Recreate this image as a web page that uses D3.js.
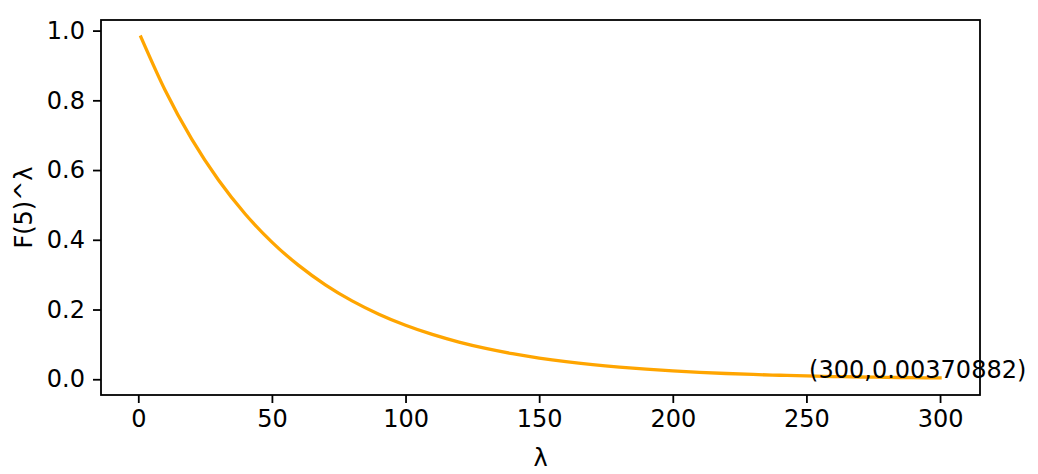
<!DOCTYPE html>
<html>
<head>
<meta charset="utf-8">
<script src="https://cdn.jsdelivr.net/npm/d3@7"></script>
<style>
  html, body { margin: 0; padding: 0; background: #fff; }
  svg { display: block; }
  text { font-family: "DejaVu Sans", sans-serif; fill: #000; }
</style>
</head>
<body>
<svg id="chart" width="1038" height="474"></svg>
<script>
// ---- data ----
const lambdas = [1, 10, 20, 30, 40, 50, 60, 70, 80, 90, 100, 110, 120, 130, 140, 150,
                 160, 170, 180, 190, 200, 210, 220, 230, 240, 250, 260, 270, 280, 290, 300];
const values  = [0.9815, 0.8298, 0.6886, 0.5714, 0.4741, 0.3934, 0.3265, 0.2709, 0.2248,
                 0.1866, 0.1548, 0.1285, 0.1066, 0.0885, 0.0734, 0.0609, 0.0505, 0.0419,
                 0.0348, 0.0289, 0.0240, 0.0199, 0.0165, 0.0137, 0.0114, 0.0094, 0.0078,
                 0.0065, 0.0054, 0.0045, 0.00370882];
const xTicks = [0, 50, 100, 150, 200, 250, 300];
const yTicks = [0.0, 0.2, 0.4, 0.6, 0.8, 1.0];
const annotationText = "(300,0.00370882)";
const annotationX = 251;
const annotationY = 0.00370882;
const xLabel = "λ";
const yLabel = "F(5)^λ";

// ---- layout ----
const svg = d3.select("#chart");
const mLeft = 101, mRight = 980, mTop = 20, mBottom = 395;
const fs = 24;

const xMin = d3.min(lambdas), xMax = d3.max(lambdas);
const yMin = d3.min(values), yMax = d3.max(values);
const xm = (xMax - xMin) * 0.05, ym = (yMax - yMin) * 0.05;

const x = d3.scaleLinear().domain([xMin - xm, xMax + xm]).range([mLeft, mRight]);
const y = d3.scaleLinear().domain([yMin - ym, yMax + ym]).range([mBottom, mTop]);

const pts = lambdas.map((l, i) => [l, values[i]]);

// line
svg.append("path")
  .datum(pts)
  .attr("fill", "none")
  .attr("stroke", "#FFA500")
  .attr("stroke-width", 3.3)
  .attr("stroke-linejoin", "round")
  .attr("stroke-linecap", "square")
  .attr("d", d3.line().x(d => x(d[0])).y(d => y(d[1])).curve(d3.curveMonotoneX));

// axes
const xAxis = svg.append("g")
  .attr("transform", `translate(0,${mBottom})`)
  .call(d3.axisBottom(x).tickValues(xTicks).tickFormat(d3.format("d")).tickSize(8).tickPadding(7));
const yAxis = svg.append("g")
  .attr("transform", `translate(${mLeft},0)`)
  .call(d3.axisLeft(y).tickValues(yTicks).tickFormat(d3.format(".1f")).tickSize(8).tickPadding(8));

[xAxis, yAxis].forEach(g => {
  g.select(".domain").remove();
  g.selectAll(".tick line").attr("stroke", "#000").attr("stroke-width", 1.8);
  g.selectAll(".tick text").attr("font-size", fs).attr("font-family", "DejaVu Sans").attr("fill", "#000");
});

// frame
svg.append("rect")
  .attr("x", mLeft).attr("y", mTop)
  .attr("width", mRight - mLeft).attr("height", mBottom - mTop)
  .attr("fill", "none").attr("stroke", "#000").attr("stroke-width", 1.8);

// annotation
svg.append("text")
  .attr("x", x(annotationX)).attr("y", y(annotationY))
  .attr("font-size", fs)
  .text(annotationText);

// axis labels
svg.append("text")
  .attr("x", (mLeft + mRight) / 2).attr("y", 466)
  .attr("text-anchor", "middle").attr("font-size", fs)
  .text(xLabel);
svg.append("text")
  .attr("transform", `translate(32,${(mTop + mBottom) / 2}) rotate(-90)`)
  .attr("text-anchor", "middle").attr("font-size", fs)
  .text(yLabel);
</script>
</body>
</html>
